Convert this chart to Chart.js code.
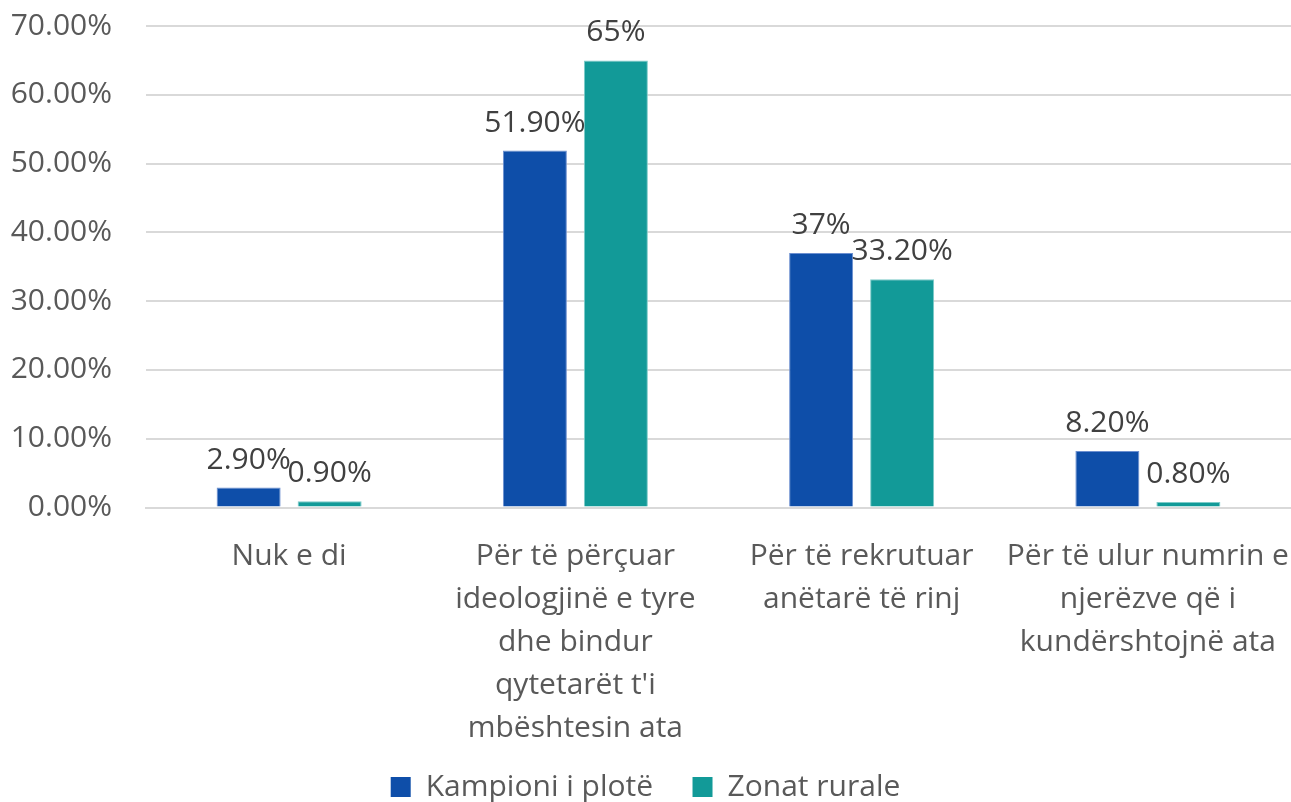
<!DOCTYPE html>
<html lang="sq">
    <head>
        <meta charset="UTF-8">
        <title>Chart</title>
        <style>
            body { margin: 0; background: #fff; }
        </style>
    </head>
    <body>
        <canvas id="myChart" width="1291" height="802"></canvas>
        <script src="https://cdn.jsdelivr.net/npm/chart.js@4.4.0/dist/chart.umd.min.js"></script>
        <script>
            // categories (multi-line, as in the picture)
            const categories = [
                ['Nuk e di'],
                ['Për të përçuar', 'ideologjinë e tyre', 'dhe bindur', "qytetarët t'i", 'mbështesin ata'],
                ['Për të rekrutuar', 'anëtarë të rinj'],
                ['Për të ulur numrin e', 'njerëzve që i', 'kundërshtojnë ata']
            ];
            const seriesNames = ['Kampioni i plotë', 'Zonat rurale'];
            const kampioni = [2.9, 51.9, 37, 8.2];
            const rurale = [0.9, 65, 33.2, 0.8];
            // value labels exactly as printed on the chart
            const kampioniLabels = ['2.90%', '51.90%', '37%', '8.20%'];
            const ruraleLabels = ['0.90%', '65%', '33.20%', '0.80%'];
            const yTicks = [0, 10, 20, 30, 40, 50, 60, 70];

            const FONT = "'Open Sans', 'Noto Sans', sans-serif";

            const valueLabels = {
                id: 'valueLabels',
                afterLayout(chart) {
                    // nudge the legend a bit lower, like the original
                    chart.legend.top += 10;
                    chart.legend.bottom += 10;
                },
                afterDatasetsDraw(chart) {
                    const c = chart.ctx;
                    c.save();
                    c.font = '30px ' + FONT;
                    c.fillStyle = '#404040';
                    c.textAlign = 'center';
                    c.textBaseline = 'alphabetic';
                    chart.data.datasets.forEach(function (ds, i) {
                        chart.getDatasetMeta(i).data.forEach(function (bar, j) {
                            c.fillText(ds.valueText[j], bar.x, bar.y - 19);
                        });
                    });
                    c.restore();
                }
            };

            var ctx = document.getElementById('myChart').getContext('2d');
            new Chart(ctx, {
                type: 'bar',
                data: {
                    labels: categories,
                    datasets: [{
                        label: seriesNames[0],
                        data: kampioni,
                        valueText: kampioniLabels,
                        backgroundColor: '#0E4EA9',
                        borderColor: '#6C8FD0',
                        borderWidth: 1,
                        categoryPercentage: 0.566,
                        barPercentage: 0.79
                    }, {
                        label: seriesNames[1],
                        data: rurale,
                        valueText: ruraleLabels,
                        backgroundColor: '#129A98',
                        borderColor: '#7CCBC9',
                        borderWidth: 1,
                        categoryPercentage: 0.566,
                        barPercentage: 0.79
                    }]
                },
                options: {
                    responsive: false,
                    animation: false,
                    layout: { padding: 0 },
                    plugins: {
                        tooltip: { enabled: false },
                        legend: {
                            position: 'bottom',
                            labels: {
                                boxWidth: 20,
                                boxHeight: 20,
                                padding: 16,
                                color: '#595959',
                                font: { family: FONT, size: 30 },
                                generateLabels: function (chart) {
                                    return Chart.defaults.plugins.legend.labels.generateLabels(chart).map(function (l, i) {
                                        l.lineWidth = 0;
                                        if (i === 0) l.text = l.text + '   '; // wider gap between the two items
                                        return l;
                                    });
                                }
                            }
                        }
                    },
                    scales: {
                        x: {
                            grid: { display: false, drawTicks: false },
                            border: { color: '#d9d9d9', width: 2 },
                            ticks: {
                                color: '#595959',
                                maxRotation: 0,
                                autoSkip: false,
                                padding: 28,
                                font: { family: FONT, size: 30, lineHeight: 1.43 }
                            },
                            afterFit: function (scale) {
                                scale.paddingLeft = 0;
                                scale.paddingRight = 0;
                                scale.height -= 32;
                            }
                        },
                        y: {
                            min: 0,
                            max: 70,
                            afterBuildTicks: function (axis) {
                                axis.ticks = yTicks.map(function (v) { return { value: v }; });
                            },
                            grid: { color: '#d9d9d9', lineWidth: 2, drawTicks: false },
                            border: { display: false },
                            ticks: {
                                color: '#595959',
                                padding: 34,
                                font: { family: FONT, size: 30 },
                                callback: function (v) { return v.toFixed(2) + '%'; }
                            },
                            afterFit: function (scale) {
                                scale.width = 146;
                                scale.paddingTop = 26;
                            }
                        }
                    }
                },
                plugins: [valueLabels]
            });
        </script>
    </body>
</html>
